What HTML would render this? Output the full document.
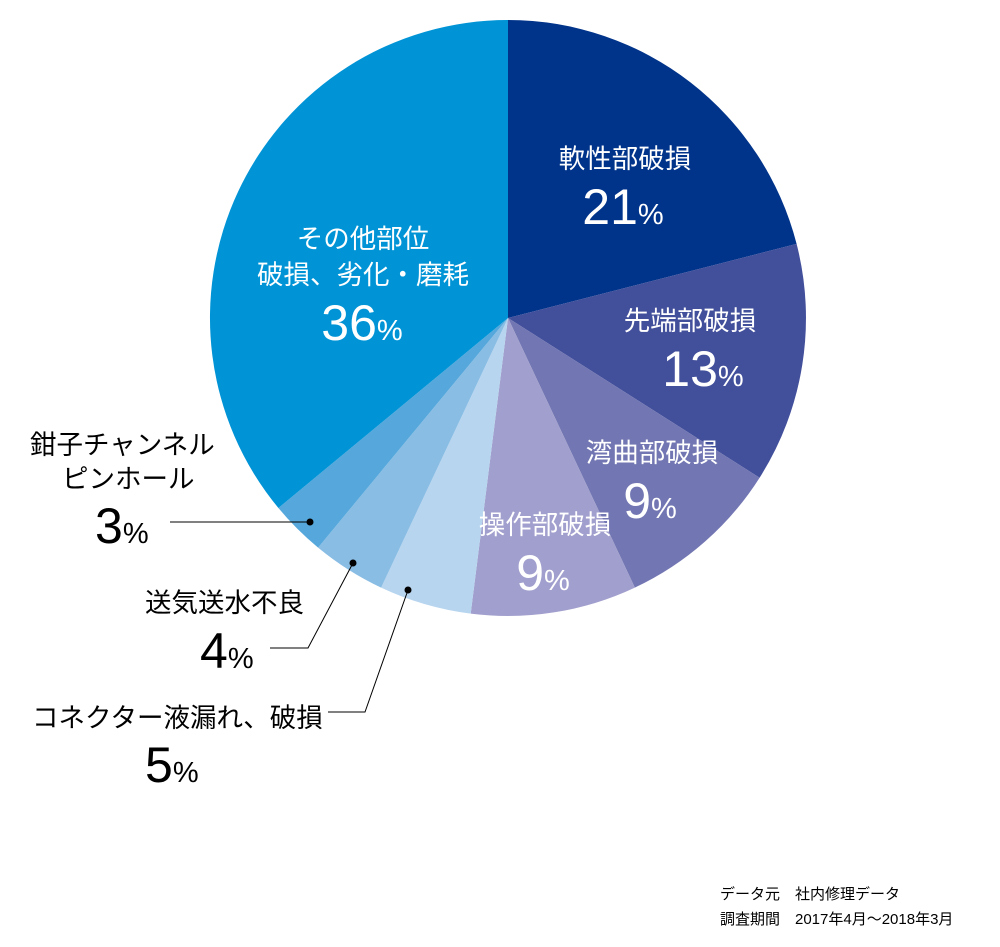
<!DOCTYPE html>
<html><head><meta charset="utf-8"><style>
html,body{margin:0;padding:0;background:#fff;}
svg{display:block;}
text{font-family:"Liberation Sans","Noto Sans CJK JP",sans-serif;}
</style></head><body>
<svg width="1000" height="947" viewBox="0 0 1000 947" xmlns="http://www.w3.org/2000/svg">
<g stroke="none">
<path d="M508,318 L508,20 A298,298 0 0 1 796.6,243.9 Z" fill="#00338a"/>
<path d="M508,318 L796.6,243.9 A298,298 0 0 1 759.6,477.7 Z" fill="#424f9b"/>
<path d="M508,318 L759.6,477.7 A298,298 0 0 1 634.9,587.6 Z" fill="#7276b2"/>
<path d="M508,318 L634.9,587.6 A298,298 0 0 1 470.7,613.6 Z" fill="#a19fcd"/>
<path d="M508,318 L470.7,613.6 A298,298 0 0 1 381.1,587.6 Z" fill="#b7d5ef"/>
<path d="M508,318 L381.1,587.6 A298,298 0 0 1 318.1,547.6 Z" fill="#89bde4"/>
<path d="M508,318 L318.1,547.6 A298,298 0 0 1 278.4,508 Z" fill="#56a8dc"/>
<path d="M508,318 L278.4,508 A298,298 0 0 1 508,20 Z" fill="#0094d6"/>
</g>
<g fill="#fff" text-anchor="middle">
<text x="625" y="168" font-size="26.5">軟性部破損</text>
<text x="623" y="224" font-size="50">21<tspan font-size="29">%</tspan></text>
<text x="690" y="330" font-size="26.5">先端部破損</text>
<text x="703" y="386" font-size="50">13<tspan font-size="29">%</tspan></text>
<text x="652" y="462" font-size="26.5">湾曲部破損</text>
<text x="650" y="518" font-size="50">9<tspan font-size="29">%</tspan></text>
<text x="545" y="534" font-size="26.5">操作部破損</text>
<text x="543" y="590" font-size="50">9<tspan font-size="29">%</tspan></text>
<text x="363" y="248" font-size="26.5">その他部位</text>
<text x="363" y="284" font-size="26.5">破損、劣化・磨耗</text>
<text x="362" y="340" font-size="50">36<tspan font-size="29">%</tspan></text>
</g>
<g fill="#000">
<text x="30" y="454" font-size="26.5">鉗子チャンネル</text>
<text x="62" y="488" font-size="26.5">ピンホール</text>
<text x="95" y="543" font-size="50">3<tspan font-size="29">%</tspan></text>
<text x="145" y="612" font-size="26.5">送気送水不良</text>
<text x="200" y="668" font-size="50">4<tspan font-size="29">%</tspan></text>
<text x="32" y="727" font-size="26.5">コネクター液漏れ、破損</text>
<text x="145" y="782" font-size="50">5<tspan font-size="29">%</tspan></text>
<text x="720" y="899" font-size="15">データ元　社内修理データ</text>
<text x="720" y="924" font-size="15">調査期間　2017年4月～2018年3月</text>
</g>
<g stroke="#000" stroke-width="1" fill="none">
<polyline points="310,522 170,522"/>
<polyline points="353,563 308,648 270,648"/>
<polyline points="408,590 365,712 328,712"/>
</g>
<g fill="#000">
<circle cx="310" cy="522" r="3.5"/>
<circle cx="353" cy="563" r="3.5"/>
<circle cx="408" cy="590" r="3.5"/>
</g>
</svg>
</body></html>
